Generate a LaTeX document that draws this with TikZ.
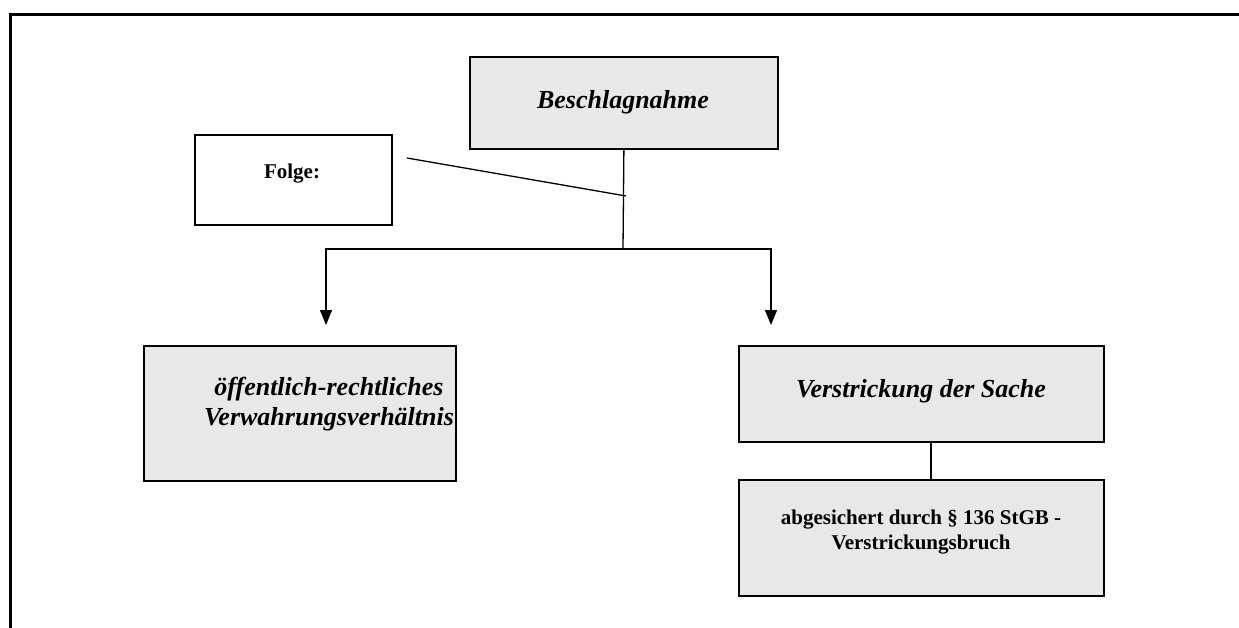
\documentclass[tikz,border=0pt]{standalone}
\usepackage{fontspec}
\setmainfont{Liberation Serif}
\usetikzlibrary{arrows.meta}
\definecolor{boxgray}{HTML}{E8E8E8}
\begin{document}
\begin{tikzpicture}[x=1pt,y=-1pt,
  box/.style={draw=black,line width=1.8pt,inner sep=0pt,anchor=north west},
  greybox/.style={box,fill=boxgray},
  bigtext/.style={font=\fontsize{26}{30}\selectfont\bfseries\itshape,align=center,inner sep=0pt},
  smalltext/.style={font=\fontsize{21}{25}\selectfont\bfseries,align=center,inner sep=0pt},
  conn/.style={line width=1.3pt},
  arr/.style={conn,-{Triangle[width=12pt,length=15pt]}}]
\useasboundingbox (0,0) rectangle (1239,628);

% open page frame (top and left edges)
\draw[line width=3pt] (10,628) -- (10,15) -- (1239,15);

% boxes
\node[greybox,minimum width=308pt,minimum height=92pt] (besch) at (469,56) {};
\node[bigtext] (beschtxt) at (623,102) {Beschlagnahme};

\node[box,fill=white,minimum width=197pt,minimum height=90pt] (folge) at (194,134) {};
\node[smalltext] (folgetxt) at (292,174) {Folge:};

\node[greybox,minimum width=312pt,minimum height=135pt] (verw) at (143,345) {};
\node[bigtext] (verwtxt) at (329,404) {öffentlich-rechtliches\\Verwahrungsverhältnis};

\node[greybox,minimum width=365pt,minimum height=96pt] (verst) at (738,345) {};
\node[bigtext] (versttxt) at (921,391) {Verstrickung der Sache};

\node[greybox,minimum width=365pt,minimum height=116pt] (sich) at (738,479) {};
\node[smalltext] (sichtxt) at (921,532) {abgesichert durch § 136 StGB -\\Verstrickungsbruch};

% connectors
\coordinate (split) at (623,249);
\coordinate (tipL) at (326,325);
\coordinate (tipR) at (771,325);
\draw[conn] (besch.south) -- (split);
\draw[arr] (split) -| (tipL);
\draw[arr] (split) -| (tipR);

\coordinate (fs) at (407,158);
\coordinate (fe) at (626,196);
\draw[conn] (fs) -- (fe);

\coordinate (vlink) at (931,441);
\draw[conn] (vlink) -- (vlink |- sich.north);
\end{tikzpicture}
\end{document}
